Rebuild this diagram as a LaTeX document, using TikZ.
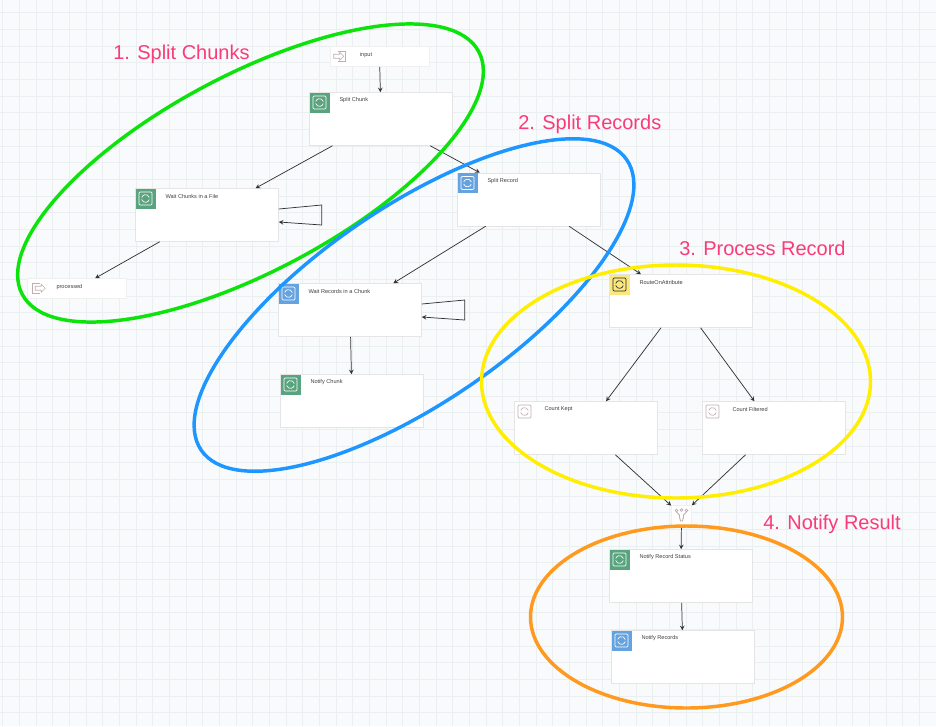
\documentclass[tikz,border=0pt]{standalone}
\usepackage{fontspec}
\setmainfont{Liberation Sans}
\usetikzlibrary{positioning,shadows}
\definecolor{pagebg}{HTML}{F8FAFC}
\definecolor{gridcol}{HTML}{EAEFF1}
\definecolor{procgreen}{HTML}{5AA37F}
\definecolor{procblue}{HTML}{65A3E0}
\definecolor{procyellow}{HTML}{FBE87C}
\definecolor{iconline}{HTML}{BFAEB0}
\definecolor{pinktext}{HTML}{FB3B78}
\definecolor{ringgreen}{HTML}{0BE30B}
\definecolor{ringblue}{HTML}{1E96FF}
\definecolor{ringyellow}{HTML}{FFEE00}
\definecolor{ringorange}{HTML}{FF9A1E}
\tikzset{
  flow/.style={draw=black!80,line width=0.55pt,-stealth},
  softshadow/.style={drop shadow={opacity=0.2,shadow xshift=0.4pt,shadow yshift=-0.5pt}},
  procbox/.style={draw=black!10,fill=white,softshadow,minimum width=107.25pt,minimum height=39.75pt,inner sep=0pt},
  portbox/.style={draw=black!6,fill=white,softshadow,minimum width=74.25pt,minimum height=15pt,inner sep=0pt},
  boxtext/.style={font=\fontsize{4.2}{5}\selectfont,text=black!75,inner sep=0pt,anchor=west},
  iconbox/.style={minimum size=15pt,inner sep=0pt,anchor=north west},
  steplabel/.style={font=\fontsize{15}{18}\selectfont,text=pinktext,inner sep=0pt,anchor=west},
  ring/.style={line width=2.6pt}
}
% one processor box: name, centre, icon colour, line colour of the icon, text
\newcommand{\procnode}[5]{
  \node[procbox] (#1) at (#2) {};
  \node[iconbox,fill=#3] (#1-icon) at (#1.north west) {};
  \draw[#4,line width=0.5pt,rounded corners=0.8pt] ([shift={(-6.5,-6.5)}]#1-icon.center) rectangle ([shift={(6.5,6.5)}]#1-icon.center);
  \draw[#4,line width=0.5pt] ([shift={(3.8,-1)}]#1-icon.center) arc (-15:-165:3.9);
  \draw[#4,line width=0.5pt] ([shift={(-3.8,1)}]#1-icon.center) arc (165:15:3.9);
  \node[boxtext] (#1-text) at ([shift={(30,8)}]#1.north west) {#5};
}
\begin{document}
\begin{tikzpicture}[x=0.75pt,y=-0.75pt]
\useasboundingbox (0,0) rectangle (936,726);
\fill[pagebg] (0,0) rectangle (936,726);
\foreach \i in {0,...,56}
  \draw[gridcol,line width=0.75pt] ({2.7+\i*16.67},0) -- ({2.7+\i*16.67},726);
\foreach \i in {1,...,44}
  \draw[gridcol,line width=0.75pt] (0,{-4+\i*16.67}) -- (936,{-4+\i*16.67});

% sources and sinks
\node[portbox] (input) at (379.5,56.5) {};
\node[boxtext] (input-text) at ([shift={(30,9)}]input.north west) {input};
\draw[iconline,line width=0.4pt] ([shift={(8,5)}]input.north west) -- ++(8,0) -- ++(0,10) -- ++(-8,0);
\draw[iconline,line width=0.4pt,fill=white] ([shift={(4,8)}]input.north west) -- ++(6,0) -- ++(0,-2) -- ++(4,4) -- ++(-4,4) -- ++(0,-2) -- ++(-6,0) -- cycle;
\node[portbox] (processed) at (77,288.5) {};
\node[boxtext] (processed-text) at ([shift={(29,9)}]processed.north west) {processed};
\draw[iconline,line width=0.4pt] ([shift={(5,5)}]processed.north west) -- ++(8,0) (processed.north west) ++(5,5) -- ++(0,10) -- ++(8,0);
\draw[iconline,line width=0.4pt,fill=white] ([shift={(8,8)}]processed.north west) -- ++(6,0) -- ++(0,-2) -- ++(4,4) -- ++(-4,4) -- ++(0,-2) -- ++(-6,0) -- cycle;

% processors
\procnode{splitchunk}{381,119}{procgreen}{white}{Split Chunk}
\procnode{waitchunks}{207,215}{procgreen}{white}{Wait Chunks in a File}
\procnode{splitrecord}{529,199.5}{procblue}{white}{Split Record}
\procnode{waitrecords}{350,310}{procblue}{white}{Wait Records in a Chunk}
\procnode{notifychunk}{352,401}{procgreen}{white}{Notify Chunk}
\procnode{route}{681,301}{procyellow}{black!85}{RouteOnAttribute}
\procnode{countkept}{586,428}{none}{iconline}{Count Kept}
\procnode{countfiltered}{774,428}{none}{iconline}{Count Filtered}
\procnode{notifystatus}{681,576}{procgreen}{white}{Notify Record Status}
\procnode{notifyrecords}{683,657}{procblue}{white}{Notify Records}
\node[draw=black!6,fill=white,minimum size=15pt,inner sep=0pt] (funnel) at (681.5,515) {};
\draw[iconline,line width=0.7pt] (funnel.center) ++(-5,-3) -- ++(3,3) -- ++(0,2) -- ++(1,4) -- ++(2,0) -- ++(1,-4) -- ++(0,-2) -- ++(3,-3);
\draw[iconline,line width=0.5pt] (funnel.center) ++(-5,-4.5) circle (1.4) ++(5,-0.5) circle (1.4) ++(5,0.5) circle (1.4);

% connectors
\draw[flow] (input) -- (splitchunk);
\draw[flow] (splitchunk) -- (waitchunks);
\draw[flow] (splitchunk) -- (splitrecord);
\draw[flow] (waitchunks) -- (processed);
\draw[flow] (waitchunks.east) ++(0,-6) -- ++(43,-4) -- ++(0,20) -- ++(-43,-3);
\draw[flow] (splitrecord) -- (waitrecords);
\draw[flow] (splitrecord) -- (route);
\draw[flow] (waitrecords) -- (notifychunk);
\draw[flow] (waitrecords.east) ++(0,-6) -- ++(43,-4) -- ++(0,20) -- ++(-43,-3);
\draw[flow] (route) -- (countkept);
\draw[flow] (route) -- (countfiltered);
\draw[flow] (countkept) -- (funnel);
\draw[flow] (countfiltered) -- (funnel);
\draw[flow] (funnel) -- (notifystatus);
\draw[flow] (notifystatus) -- (notifyrecords);

% hand drawn rings
\draw[ring,draw=ringgreen,rotate around={28:(250.5,173)}] (250.5,173) ellipse [x radius=258.5,y radius=98];
\draw[ring,draw=ringblue,rotate around={34.3:(414,305)}] (414,305) ellipse [x radius=257.6,y radius=98];
\draw[ring,draw=ringyellow] (676,381.5) ellipse [x radius=194.5,y radius=116.5];
\draw[ring,draw=ringorange] (686.5,617) ellipse [x radius=156,y radius=91];

\node[steplabel] (step1) at (113,54.5) {1. Split Chunks};
\node[steplabel] (step2) at (518,124.5) {2. Split Records};
\node[steplabel] (step3) at (679,248.5) {3. Process Record};
\node[steplabel] (step4) at (763,524.5) {4. Notify Result};
\end{tikzpicture}
\end{document}
